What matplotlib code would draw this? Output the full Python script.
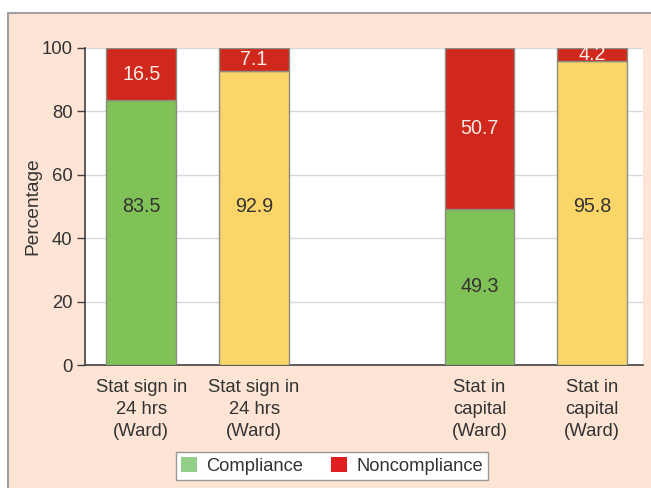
import matplotlib.pyplot as plt
from matplotlib.patches import Rectangle, Patch

# data
categories = ["Stat sign in\n24 hrs\n(Ward)", "Stat sign in\n24 hrs\n(Ward)",
              "Stat in\ncapital\n(Ward)", "Stat in\ncapital\n(Ward)"]
compliance = [83.5, 92.9, 49.3, 95.8]
noncompliance = [16.5, 7.1, 50.7, 4.2]
comp_colors = ["#80c257", "#fcd569", "#80c257", "#fcd569"]
red = "#d1281d"

plt.rcParams['font.family'] = ['Liberation Sans', 'DejaVu Sans']
plt.rcParams['font.size'] = 13.3

fig = plt.figure(figsize=(6.51, 4.88), dpi=100, facecolor="white")
# peach panel behind the chart
fig.patches.append(Rectangle((8 / 651, -0.01), 1.0, (488 - 13) / 488 + 0.01,
                             transform=fig.transFigure, facecolor="#fde4d4",
                             edgecolor="#a0a0a0", linewidth=1.5, zorder=-1))

ax = fig.add_axes([85 / 651, (488 - 365) / 488, (643 - 85) / 651, (365 - 48) / 488])
ax.set_facecolor("white")

# leave an empty slot between the two groups
pos = [0, 1, 3, 4]
w = 0.62
ax.bar(pos, compliance, width=w, color=comp_colors, edgecolor="#8c8c80",
       linewidth=1, zorder=3)
ax.bar(pos, noncompliance, width=w, bottom=compliance, color=red,
       edgecolor="#8c8c80", linewidth=1, zorder=3)

for x, c, n in zip(pos, compliance, noncompliance):
    # tall compliance labels sit at the 50 line
    ax.text(x, c / 2 if c < 50 else 50, f"{c}", ha="center", va="center",
            color="#333333", fontsize=14.2, zorder=4)
    ax.text(x, c + n / 2, f"{n}", ha="center", va="center",
            color="#f6ece4", fontsize=14.2, zorder=4, clip_on=True)

ax.set_xlim(-0.5, 4.45)
ax.set_ylim(0, 100)
ax.set_yticks([0, 20, 40, 60, 80, 100])
ax.set_xticks(pos)
ax.set_xticklabels(categories, color="#333333", linespacing=1.4)
ax.tick_params(axis="x", length=0, pad=10)
ax.tick_params(axis="y", length=6, width=1, color="#404040", colors="#333333", pad=3)
ax.yaxis.grid(True, color="#d9d9d9", linewidth=1, zorder=0)
ax.set_axisbelow(True)
for s in ["top", "right"]:
    ax.spines[s].set_visible(False)
for s in ["left", "bottom"]:
    ax.spines[s].set_color("#404040")
    ax.spines[s].set_linewidth(1.2)
ax.set_ylabel("Percentage", color="#333333", labelpad=0, fontsize=13.8)

handles = [Patch(facecolor="#93cf88", edgecolor="none", label="Compliance"),
           Patch(facecolor="#e01e22", edgecolor="none", label="Noncompliance")]
fig.legend(handles=handles, loc="center", bbox_to_anchor=(332 / 651, 1 - 466 / 488),
           ncol=2, frameon=True, fancybox=False, edgecolor="#999999",
           facecolor="white", framealpha=1, handlelength=0.9, handleheight=0.9,
           handletextpad=0.5, columnspacing=1.5, borderpad=0.25,
           labelcolor="#333333", fontsize=13.2)

fig.savefig("out.png", dpi=100, facecolor="white")
